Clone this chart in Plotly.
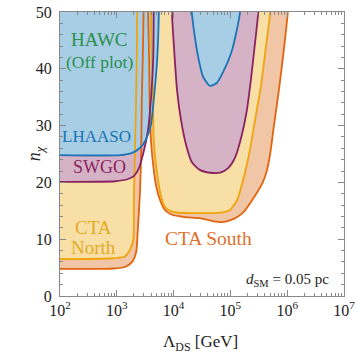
import plotly.graph_objects as go

# --- Boundaries: log10(Lambda_DS/GeV) and n_chi ---
# low-Lambda regions (excluded above the curve, left of it)
ctas_left_lx = [1.9, 2.88, 3.14, 3.27, 3.34, 3.37, 3.41, 3.43, 3.44, 3.46, 3.47, 3.47]
ctas_left_n = [4.8, 4.8, 5.1, 6.0, 7.7, 11.6, 18.7, 25.7, 34.5, 43.3, 50.0, 55.0]

ctan_left_lx = [1.9, 2.88, 3.13, 3.23, 3.29, 3.30, 3.32, 3.34, 3.36, 3.36]
ctan_left_n = [6.5, 6.6, 6.9, 8.1, 9.9, 16.9, 25.7, 34.5, 50.0, 55.0]

swgo_left_lx = [1.9, 2.97, 3.20, 3.30, 3.39, 3.48, 3.55, 3.60, 3.64, 3.65, 3.65]
swgo_left_n = [20.1, 20.2, 20.6, 21.1, 22.5, 25.7, 29.2, 34.5, 41.5, 50.0, 55.0]

lhaaso_left_lx = [1.9, 3.06, 3.27, 3.41, 3.51, 3.60, 3.65, 3.71, 3.74, 3.74]
lhaaso_left_n = [24.8, 24.8, 25.2, 26.1, 27.5, 30.1, 34.5, 41.5, 50.0, 55.0]

# high-Lambda U-shaped regions
ctas_u_lx = [3.55, 3.55, 3.57, 3.58, 3.60, 3.64, 3.69, 3.76, 3.85, 3.97, 4.20, 4.46,
             4.68, 4.85, 4.99, 5.12, 5.25, 5.37, 5.48, 5.57, 5.64, 5.70, 5.76, 5.85,
             5.94, 6.01, 6.01]
ctas_u_n = [55.0, 50.0, 41.5, 32.7, 27.5, 23.1, 19.5, 16.9, 15.1, 14.3, 13.9, 13.7,
            13.2, 13.0, 13.3, 13.9, 15.0, 16.7, 18.4, 20.0, 22.0, 25.0, 29.5, 36.0,
            43.3, 50.0, 55.0]

ctan_u_lx = [3.60, 3.60, 3.62, 3.64, 3.65, 3.69, 3.74, 3.78, 3.83, 3.90, 4.04, 4.38,
             4.73, 4.90, 4.99, 5.12, 5.20, 5.29, 5.36, 5.45, 5.54, 5.63, 5.70, 5.70]
ctan_u_n = [55.0, 50.0, 41.5, 32.7, 27.5, 23.1, 19.5, 17.5, 16.0, 15.2, 14.7, 14.6,
            14.6, 14.8, 15.1, 16.9, 19.5, 23.1, 26.6, 31.9, 37.1, 44.2, 50.0, 55.0]

swgo_u_lx = [3.97, 3.97, 4.01, 4.06, 4.13, 4.22, 4.32, 4.46, 4.64, 4.82, 4.96, 5.08,
             5.20, 5.29, 5.36, 5.43, 5.49, 5.49]
swgo_u_n = [55.0, 50.0, 43.3, 36.3, 31.0, 26.6, 23.6, 22.2, 21.7, 21.7, 22.5, 24.3,
            28.3, 32.7, 38.0, 44.2, 50.0, 55.0]

lhaaso_u_lx = [4.32, 4.32, 4.41, 4.52, 4.64, 4.76, 4.87, 5.03, 5.17, 5.17]
lhaaso_u_n = [55.0, 50.0, 43.3, 38.6, 37.0, 37.5, 39.4, 43.3, 50.0, 55.0]

x_ticks = [1e2, 1e3, 1e4, 1e5, 1e6, 1e7]
x_ticktext = ["10<sup>2</sup>", "10<sup>3</sup>", "10<sup>4</sup>", "10<sup>5</sup>",
              "10<sup>6</sup>", "10<sup>7</sup>"]

# colours: (fill, line)
col_ctas = ("#f1c6a6", "#e0650e")
col_ctan = ("#f8dfa6", "#efa40c")
col_swgo = ("#d6b2c6", "#8a2461")
col_lhaaso = ("#a7cee4", "#1a74b5")

regions = [
    (ctas_left_lx, ctas_left_n, col_ctas, True),
    (ctas_u_lx, ctas_u_n, col_ctas, False),
    (ctan_left_lx, ctan_left_n, col_ctan, True),
    (ctan_u_lx, ctan_u_n, col_ctan, False),
    (swgo_left_lx, swgo_left_n, col_swgo, True),
    (swgo_u_lx, swgo_u_n, col_swgo, False),
    (lhaaso_left_lx, lhaaso_left_n, col_lhaaso, True),
    (lhaaso_u_lx, lhaaso_u_n, col_lhaaso, False),
]

fig = go.Figure()

# fills first (opaque, later ones on top)
for lx, n, col, left in regions:
    xs = [10 ** v for v in lx]
    ys = list(n)
    if left:
        xs = xs + [10 ** 1.9]
        ys = ys + [55.0]
    fig.add_trace(go.Scatter(x=xs, y=ys, fill="toself", fillcolor=col[0],
                             mode="none", hoverinfo="skip", showlegend=False))

# boundary lines on top of every fill
for lx, n, col, left in regions:
    fig.add_trace(go.Scatter(x=[10 ** v for v in lx], y=n, mode="lines",
                             line=dict(color=col[1], width=1.8, shape="spline", smoothing=0.6),
                             hoverinfo="skip", showlegend=False))

serif = "Liberation Serif"
labels = [
    (2.70, 45.1, "HAWC", "#2b8f4e", 19),
    (2.70, 41.2, "(Off plot)", "#2b8f4e", 17.5),
    (2.65, 28.0, "LHAASO", "#1a74b5", 17),
    (2.69, 22.7, "SWGO", "#8a2461", 18),
    (2.59, 12.1, "CTA", "#e2aa25", 19),
    (2.59, 8.6, "North", "#e2aa25", 19),
    (4.61, 10.2, "CTA South", "#e0702c", 19.5),
    (6.00, 2.8, "<i>d</i><sub>SM</sub> = 0.05 pc", "#222222", 15),
]
for x, y, t, c, s in labels:
    fig.add_annotation(x=x, y=y, xref="x", yref="y", text=t, showarrow=False,
                       font=dict(family=serif, size=s, color=c))

# axis titles
fig.add_annotation(x=0.495, y=-0.21, xref="paper", yref="paper",
                   text="Λ<sub>DS</sub> [GeV]", showarrow=False,
                   font=dict(family=serif, size=17, color="#222222"))
fig.add_annotation(x=-0.135, y=0.5, xref="paper", yref="paper", textangle=-90,
                   text="<i>n</i><sub><i>χ</i></sub>", showarrow=False,
                   font=dict(family=serif, size=18, color="#222222"))

axis_common = dict(showline=True, linecolor="#888888", linewidth=1, mirror="allticks",
                   ticks="inside", tickcolor="#888888", showgrid=False, zeroline=False,
                   automargin=False,
                   tickfont=dict(family=serif, size=16, color="#222222"))

fig.update_xaxes(type="log", range=[2, 7], tickvals=x_ticks, ticktext=x_ticktext, ticklen=6,
                 minor=dict(ticks="inside", ticklen=3, tickcolor="#888888",
                            tickvals=[m * 10 ** e for e in range(2, 7) for m in range(2, 10)]),
                 **axis_common)
fig.update_yaxes(range=[0, 50], dtick=10, ticklen=6, ticklabelstandoff=4,
                 minor=dict(ticks="inside", ticklen=3, dtick=2, tickcolor="#888888"),
                 **axis_common)

fig.update_layout(width=357, height=357, margin=dict(l=60, r=13, t=12, b=61),
                  plot_bgcolor="white", paper_bgcolor="white")

# drop the page body margin so the figure sits at the window's corner
fig.write_html("out.html", config={"displayModeBar": False},
               post_script="document.body.style.margin='0';")
